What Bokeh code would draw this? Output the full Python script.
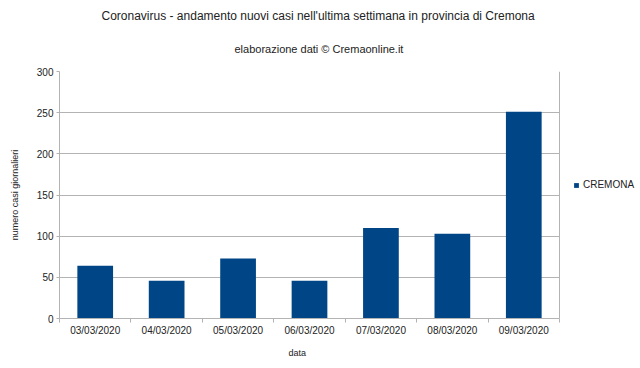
from bokeh.plotting import figure
from bokeh.models import (ColumnDataSource, Range1d, FixedTicker, Title,
                          Legend, LegendItem, Span)
from bokeh.embed import file_html
from bokeh.resources import INLINE

# ---- data ----
dates = ["03/03/2020", "04/03/2020", "05/03/2020", "06/03/2020",
         "07/03/2020", "08/03/2020", "09/03/2020"]
cases = [64, 46, 73, 46, 110, 103, 251]
series_name = "CREMONA"
y_ticks = [0, 50, 100, 150, 200, 250, 300]
title_text = "Coronavirus - andamento nuovi casi nell'ultima settimana in provincia di Cremona"
subtitle_text = "elaborazione dati \u00a9 Cremaonline.it"
x_label = "data"
y_label = "numero casi giornalieri"

FONT = "Liberation Sans"
TXT = "#222222"
GRID = "#b3b3b3"
BAR = "#004586"

W, H = 640, 368
LEFT, RIGHT_EDGE, TOP, BOTTOM = 59, 559, 71, 318   # plot area in px
n = len(dates)
positions = [i + 0.5 for i in range(n)]
bounds = list(range(n + 1))
source = ColumnDataSource(dict(x=positions, top=cases, label=dates))

# frame extends to the right edge so the legend can sit there unclipped
x_end = n * (W - LEFT) / (RIGHT_EDGE - LEFT)

p = figure(width=W, height=H, output_backend="svg", toolbar_location=None,
           x_range=Range1d(0, x_end), y_range=Range1d(y_ticks[0], y_ticks[-1]),
           min_border_left=LEFT, min_border_right=0, min_border_top=TOP,
           min_border_bottom=H - BOTTOM, title=None)
p.background_fill_color = "white"
p.border_fill_color = "white"
p.outline_line_color = None

r = p.vbar(x="x", top="top", width=0.5, source=source,
           fill_color=BAR, line_color=None)

# right border of the plot area
p.add_layout(Span(location=n, dimension="height", line_color=GRID, line_width=1))

# titles
ttl = Title(text=title_text, align="left", text_font=FONT,
            text_font_size="12px", text_font_style="normal", text_color=TXT,
            standoff=2, offset=42)
sub = Title(text=subtitle_text, align="left", text_font=FONT,
            text_font_size="11px", text_font_style="normal", text_color=TXT,
            standoff=34, offset=175)
p.add_layout(sub, "above")
p.add_layout(ttl, "above")

# x axis
xa = p.xaxis[0]
xa.bounds = (0, n)
xa.ticker = FixedTicker(ticks=positions, minor_ticks=bounds)
xa.major_label_overrides = {pos: d for pos, d in zip(positions, dates)}
xa.major_tick_line_color = None
xa.major_tick_out = 0
xa.major_tick_in = 0
xa.minor_tick_line_color = GRID
xa.minor_tick_out = 4
xa.minor_tick_in = 0
xa.axis_line_color = GRID
xa.major_label_text_font = FONT
xa.major_label_text_font_size = "10px"
xa.major_label_text_color = TXT
xa.major_label_standoff = 2
p.xgrid.visible = False

# x axis title placed as a below-title so it can be positioned horizontally
xt = Title(text=x_label, align="left", text_font=FONT,
           text_font_size="9px", text_font_style="normal", text_color=TXT,
           standoff=14, offset=229)
p.add_layout(xt, "below")

# y axis
ya = p.yaxis[0]
ya.ticker = FixedTicker(ticks=y_ticks)
ya.axis_line_color = GRID
ya.major_tick_line_color = GRID
ya.major_tick_out = 3
ya.major_tick_in = 0
ya.minor_tick_line_color = None
ya.major_label_text_font = FONT
ya.major_label_text_font_size = "10px"
ya.major_label_text_color = TXT
ya.major_label_standoff = 3
ya.axis_label = y_label
ya.axis_label_text_font = FONT
ya.axis_label_text_font_size = "9px"
ya.axis_label_text_font_style = "normal"
ya.axis_label_text_color = TXT
ya.axis_label_standoff = 14
yg = p.ygrid[0]
yg.grid_line_color = GRID
if hasattr(yg, "cross_bounds"):
    yg.cross_bounds = (0, n)

legend = Legend(items=[LegendItem(label=series_name, renderers=[r])],
                location=(514, 128), orientation="vertical",
                glyph_width=6, glyph_height=6, label_standoff=4,
                label_text_font=FONT, label_text_font_size="10px",
                label_text_color=TXT, border_line_color=None,
                background_fill_alpha=0, padding=0, margin=0, spacing=0)
p.add_layout(legend, "center")

open("out.html", "w").write(file_html(p, INLINE))
